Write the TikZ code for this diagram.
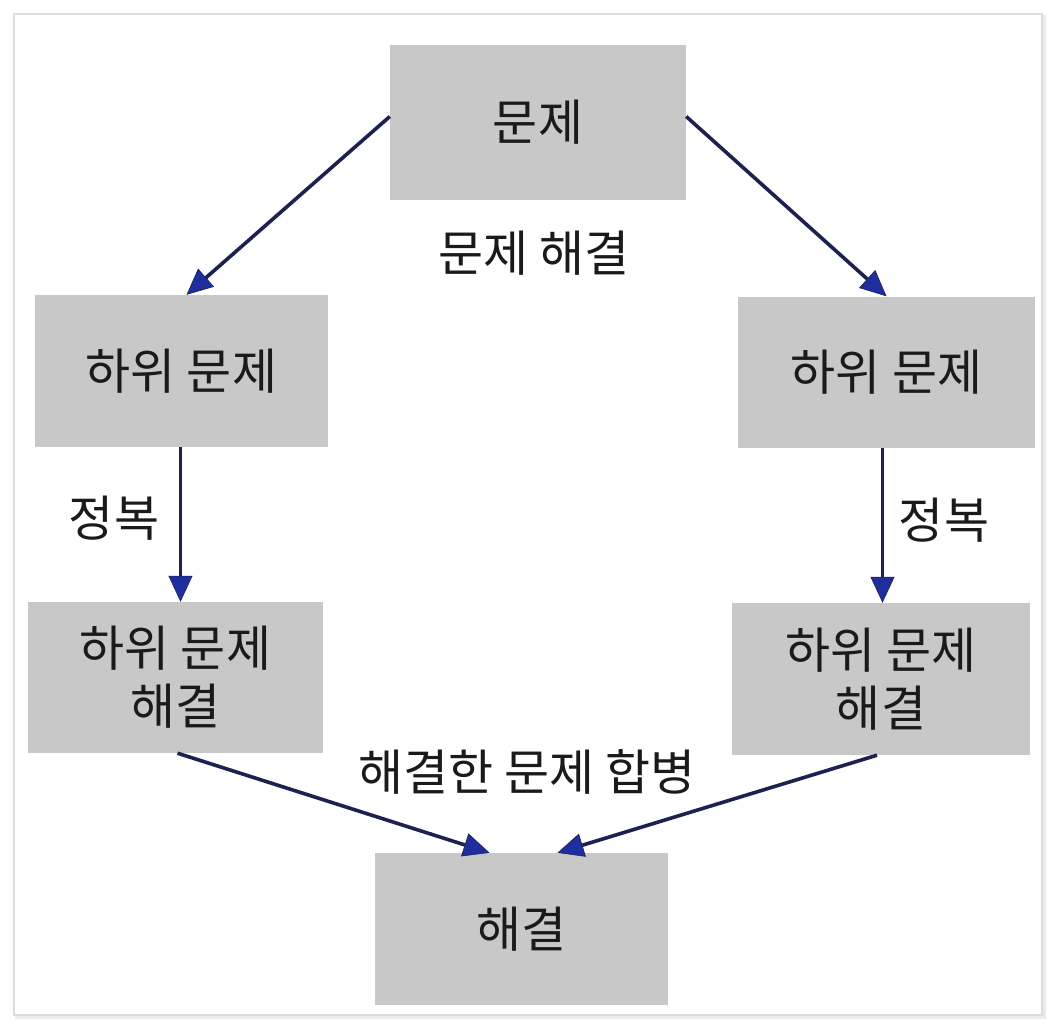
\documentclass[tikz,border=0pt]{standalone}
\usepackage{fontspec}
\setmainfont{Noto Sans CJK KR}
\usetikzlibrary{arrows.meta,calc}
\definecolor{boxgray}{HTML}{C8C8C8}
\definecolor{linenavy}{HTML}{1C2150}
\definecolor{headblue}{HTML}{1F2E9E}
\definecolor{txt}{HTML}{1A1A1A}
\definecolor{framegray}{HTML}{DDDDDD}
\tikzset{
  box/.style={fill=boxgray, draw=none, inner sep=0pt, align=center, text=txt,
    font=\fontsize{49}{58}\selectfont},
  lbl/.style={text=txt, font=\fontsize{49}{58}\selectfont, inner sep=0pt},
  arr/.style={draw=linenavy, line width=3.6pt,
    -{Triangle[length=26pt,width=24pt,fill=headblue,line width=0.6pt]}},
}
\begin{document}
\begin{tikzpicture}[x=1pt,y=-1pt]
\useasboundingbox (0,0) rectangle (1056,1030);
\fill[white] (0,0) rectangle (1056,1030);
% frame with faint shadow
\draw[framegray!60, line width=3pt] (16,17) rectangle (1044,1017);
\draw[framegray, line width=1.2pt, fill=white] (14,14) rectangle (1042,1015);

\node[box, minimum width=296pt, minimum height=155pt] (top)  at (538,122.5) {문제};
\node[box, minimum width=293pt, minimum height=152pt] (lsub) at (181.5,371) {하위 문제};
\node[box, minimum width=297pt, minimum height=151pt] (rsub) at (886.5,372) {하위 문제};
\node[box, minimum width=295pt, minimum height=151pt] (lsol) at (175.5,677.5) {하위 문제\\해결};
\node[box, minimum width=298pt, minimum height=152pt] (rsol) at (881,679) {하위 문제\\해결};
\node[box, minimum width=293pt, minimum height=152pt] (bot)  at (521.5,929) {해결};

\node[lbl] (lblsolve) at (534,253) {문제 해결};
\node[lbl] (lblconqL) at (114,518) {정복};
\node[lbl] (lblconqR) at (944,520) {정복};
\node[lbl] (lblmerge) at (527,772) {해결한 문제 합병};

\draw[arr] ([yshift=6pt]top.west) -- ([xshift=5pt]lsub.north);
\draw[arr] ([yshift=6pt]top.east) -- (rsub.north);
\draw[arr] ([xshift=-1pt]lsub.south) -- ([xshift=-1pt]lsub.south |- lsol.north);
\draw[arr] ([xshift=-4pt]rsub.south) -- ([xshift=-4pt]rsub.south |- rsol.north);
\draw[arr] ([xshift=2pt]lsol.south) -- ([xshift=-32pt]bot.north);
\draw[arr] ([xshift=-4pt]rsol.south) -- ([xshift=36pt]bot.north);
\end{tikzpicture}
\end{document}
